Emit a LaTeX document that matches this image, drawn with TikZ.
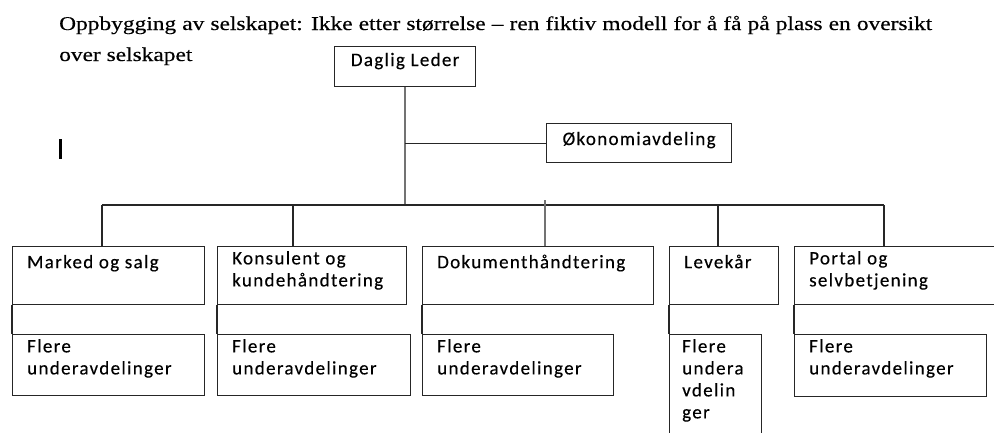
\documentclass[tikz,border=0pt]{standalone}
\usepackage{fontspec}
\setmainfont{Liberation Serif}
\newfontfamily\titlefont[FakeStretch=1.2,FakeBold=0.4]{Liberation Serif}
\newfontfamily\boxfont[LetterSpace=7,FakeBold=0.3]{Carlito}
\begin{document}
\begin{tikzpicture}[x=1pt,y=-1pt,
  box/.style={draw=black!85, line width=1.3pt, rectangle, inner sep=0pt, anchor=north west},
  txt/.style={anchor=north west, align=left, inner sep=0pt, font=\boxfont\fontsize{19}{22}\selectfont, text=black, execute at begin node={\rule{0pt}{17pt}}},
  ctxt/.style={anchor=base, align=center, inner sep=0pt, font=\boxfont\fontsize{19}{22}\selectfont, text=black},
  conn/.style={draw=black!85, line width=1.3pt},
  trunk/.style={draw=black!55, line width=1.8pt},
  title/.style={anchor=base west, inner sep=0pt, font=\titlefont\fontsize{19.5}{31}\selectfont, text=black}]
\useasboundingbox (0,0) rectangle (994,432);
\clip (0,0) rectangle (994,432);
% title
\node[title] (t1) at (59,30) {\makebox[873pt][s]{Oppbygging av selskapet: Ikke etter størrelse – ren fiktiv modell for å få på plass en oversikt}};
\node[title] (t2) at (59,61) {over selskapet};
% cursor mark
\fill[black] (59,139) rectangle (62,159);
% top boxes
\node[box, minimum width=141pt, minimum height=40pt] (dl) at (334,46) {};
\node[ctxt] (dlt) at ([yshift=-20pt]dl.north) {Daglig Leder};
\node[box, minimum width=185pt, minimum height=39pt] (ok) at (546,123) {};
\node[ctxt] (okt) at ([yshift=-22pt]ok.north) {Økonomiavdeling};
% department boxes
\node[box, minimum width=192pt, minimum height=58pt] (b1) at (12,246) {};
\node[box, minimum width=189pt, minimum height=58pt] (b2) at (217,246) {};
\node[box, minimum width=231pt, minimum height=58pt] (b3) at (422,246) {};
\node[box, minimum width=109pt, minimum height=58pt] (b4) at (669,246) {};
\node[box, minimum width=220pt, minimum height=58pt] (b5) at (794,246) {};
\node[txt] (b1t) at ([xshift=15pt,yshift=-5pt]b1.north west) {Marked og salg};
\node[txt] (b2t) at ([xshift=15pt,yshift=-5pt]b2.north west) {Konsulent og\\kundehåndtering};
\node[txt] (b3t) at ([xshift=15pt,yshift=-5pt]b3.north west) {Dokumenthåndtering};
\node[txt] (b4t) at ([xshift=15pt,yshift=-5pt]b4.north west) {Levekår};
\node[txt] (b5t) at ([xshift=15pt,yshift=-5pt]b5.north west) {Portal og\\selvbetjening};
% sub boxes
\node[box, minimum width=192pt, minimum height=61pt] (s1) at (12,334) {};
\node[box, minimum width=193pt, minimum height=61pt] (s2) at (217,334) {};
\node[box, minimum width=191pt, minimum height=61pt] (s3) at (422,334) {};
\node[box, minimum width=92pt, minimum height=110pt] (s4) at (669,334) {};
\node[box, minimum width=192pt, minimum height=62pt] (s5) at (794,334) {};
\node[txt] (s1t) at ([xshift=15pt,yshift=-5pt]s1.north west) {Flere\\underavdelinger};
\node[txt] (s2t) at ([xshift=15pt,yshift=-5pt]s2.north west) {Flere\\underavdelinger};
\node[txt] (s3t) at ([xshift=15pt,yshift=-5pt]s3.north west) {Flere\\underavdelinger};
\node[txt] (s4t) at ([xshift=13pt,yshift=-5pt]s4.north west) {Flere\\undera\\vdelin\\ger};
\node[txt] (s5t) at ([xshift=15pt,yshift=-5pt]s5.north west) {Flere\\underavdelinger};
% bus coordinates
\coordinate (v1) at (102,205);
\coordinate (v2) at (293,205);
\coordinate (v3) at (545,205);
\coordinate (v3top) at (545,200);
\coordinate (v4) at (718,205);
\coordinate (v5) at (884,205);
\coordinate (trunkbot) at (dl.south |- v1);
\coordinate (okj) at (dl.south |- ok.west);
% connectors
\draw[trunk] (dl.south) -- (trunkbot);
\draw[conn] (okj) -- (ok.west);
\draw[conn] (v1) -- (v5);
\draw[conn] (v1) -- (v1 |- b1.north);
\draw[conn] (v2) -- (v2 |- b2.north);
\draw[trunk, line width=1.5pt] (v3top) -- (v3top |- b3.north);
\draw[conn] (v4) -- (v4 |- b4.north);
\draw[conn] (v5) -- (v5 |- b5.north);
\draw[conn] (b1.south west) -- (s1.north west);
\draw[conn] (b2.south west) -- (s2.north west);
\draw[conn] (b3.south west) -- (s3.north west);
\draw[conn] (b4.south west) -- (s4.north west);
\draw[conn] (b5.south west) -- (s5.north west);
\end{tikzpicture}
\end{document}
